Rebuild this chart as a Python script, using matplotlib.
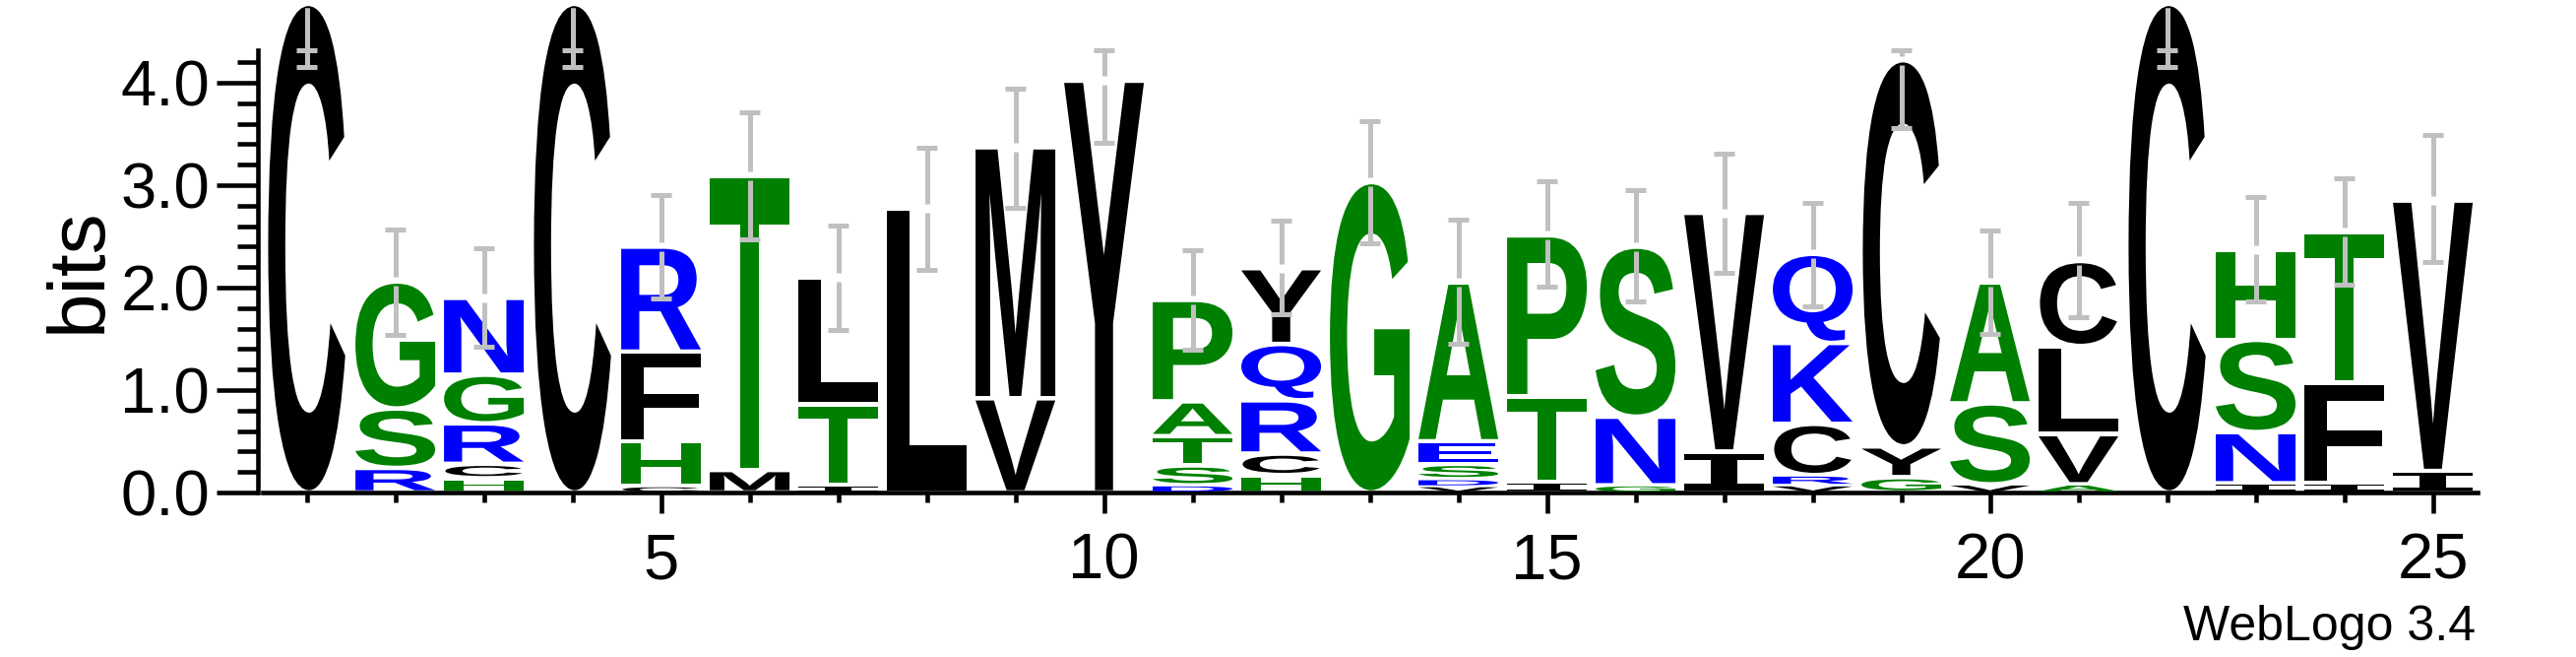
import matplotlib
matplotlib.use("Agg")
import matplotlib.pyplot as plt
from matplotlib.ticker import MultipleLocator, FixedLocator
from matplotlib.textpath import TextPath
from matplotlib.patches import PathPatch
from matplotlib.transforms import Affine2D
from matplotlib.font_manager import FontProperties

# letters per position, bottom to top, with their heights in bits
LETTERS = [
    "C", "RSG", "HCRGN", "C", "CHFR", "MT", "ITL", "L", "VM", "Y",
    "DSTAP", "HCRQY", "G", "VDSEA", "ITP", "GNS", "IV", "VRCKQ", "GYC", "VSA",
    "AVLC", "C", "INSH", "IFT", "IV",
]
HEIGHTS = [
    [4.77],
    [0.24, 0.58, 1.24],
    [0.14, 0.14, 0.395, 0.475, 0.75],
    [4.77],
    [0.06, 0.44, 0.875, 1.025],
    [0.22, 2.87],
    [0.07, 0.79, 1.24],
    [2.77],
    [0.92, 2.45],
    [4.02],
    [0.07, 0.195, 0.285, 0.34, 0.99],
    [0.17, 0.21, 0.52, 0.55, 0.74],
    [3.03],
    [0.06, 0.07, 0.15, 0.22, 1.55],
    [0.10, 0.84, 1.57],
    [0.07, 0.67, 1.66],
    [0.40, 2.33],
    [0.07, 0.10, 0.50, 0.79, 0.87],
    [0.15, 0.30, 3.77],
    [0.08, 0.79, 1.18],
    [0.08, 0.49, 0.86, 0.83],
    [4.77],
    [0.09, 0.50, 0.90, 0.88],
    [0.09, 0.98, 1.47],
    [0.21, 2.64],
]
ERR_LO = [4.15, 1.54, 1.42, 4.15, 1.894, 2.467, 1.588, 2.169, 2.782, 3.416,
          1.391, 1.739, 2.435, 1.453, 2.005, 1.87, 2.14, 1.821, 3.56, 1.547,
          1.71, 4.15, 1.862, 2.025, 2.25]
ERR_HI = [4.32, 2.565, 2.385, 4.32, 2.905, 3.711, 2.61, 3.367, 3.94, 4.32,
          2.365, 2.651, 3.621, 2.659, 3.036, 2.954, 3.306, 2.831, 4.32, 2.557,
          2.823, 4.32, 2.885, 3.069, 3.486]

# weblogo hydrophobicity colours
COLORS = {}
for aa in "RKDENQ":
    COLORS[aa] = "#0000ff"
for aa in "SGHTAP":
    COLORS[aa] = "#008000"
for aa in "YVMCLFIW":
    COLORS[aa] = "#000000"

YMAX = 4.32
BOLD = FontProperties(family="Liberation Sans", weight="bold")
MONO = FontProperties(family="DejaVu Sans Mono", weight="bold")


def draw_letter(ax, ch, x, y0, h, width):
    fp = MONO if ch == "I" else BOLD
    tp = TextPath((0, 0), ch, size=1, prop=fp)
    bb = tp.get_extents()
    m = min(0.022, 0.15 * h)
    hh = h - 2 * m
    t = (Affine2D().translate(-bb.x0, -bb.y0)
         .scale(width / bb.width, hh / bb.height)
         .translate(x - width / 2, y0 + m))
    ax.add_patch(PathPatch(t.transform_path(tp), fc=COLORS[ch], ec="none",
                           lw=0, clip_on=False, zorder=3))


def draw_errorbar(ax, x, top, lo, hi):
    gray = "#c0c0c0"
    gap = 0.043
    kw = dict(color=gray, lw=3.6, solid_capstyle="butt", clip_on=False, zorder=4)
    if hi > top + gap:
        ax.plot([x, x], [top + gap, hi], **kw)
    else:
        ax.plot([x, x], [hi, top - gap], **kw)
    ax.plot([x, x], [lo, top - gap], **kw)
    for yy in (lo, hi):
        ax.plot([x - 0.117, x + 0.117], [yy, yy], **kw)


plt.rcParams["font.family"] = ["Liberation Sans", "DejaVu Sans"]

fig = plt.figure(figsize=(26.17, 6.67), dpi=100)
ax = fig.add_axes([0.10187, 0.25037, 0.85976, 0.67361])

for i, (letters, heights) in enumerate(zip(LETTERS, HEIGHTS)):
    pos = i + 1
    y = 0.0
    for ch, h in zip(letters, heights):
        draw_letter(ax, ch, pos, y, h, 0.87 if ch == "C" else 0.9)
        y += h
    draw_errorbar(ax, pos, y, ERR_LO[i], ERR_HI[i])

ax.set_xlim(0.5, 25.5)
ax.set_ylim(0, YMAX)

for s in ("top", "right"):
    ax.spines[s].set_visible(False)
ax.spines["left"].set_position(("outward", 3))
ax.spines["left"].set_linewidth(3.3)
ax.spines["bottom"].set_linewidth(3.3)

ax.xaxis.set_major_locator(FixedLocator([5, 10, 15, 20, 25]))
ax.xaxis.set_minor_locator(MultipleLocator(1))
ax.set_yticks([0, 1, 2, 3, 4])
ax.set_yticklabels(["0.0", "1.0", "2.0", "3.0", "4.0"])
ax.yaxis.set_minor_locator(MultipleLocator(0.2))

ax.tick_params(axis="x", which="major", length=15, width=3.3, labelsize=47, pad=14)
ax.tick_params(axis="x", which="minor", length=7.5, width=3.3)
ax.tick_params(axis="y", which="major", length=30, width=3.3, labelsize=47, pad=5.5)
ax.tick_params(axis="y", which="minor", length=15, width=3.3)

fig.text(102 / 2617, (667 - 274.5) / 667, "bits", rotation=90, fontsize=59,
         ha="center", va="baseline", rotation_mode="anchor")
fig.text(2515 / 2617, (667 - 650) / 667, "WebLogo 3.4", fontsize=36,
         ha="right", va="baseline")

fig.savefig("out.png", dpi=100, facecolor="white")
